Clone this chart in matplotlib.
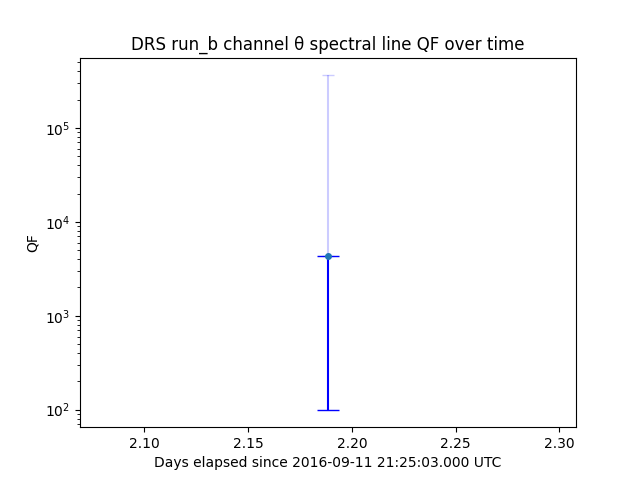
import numpy as np
import matplotlib.pyplot as plt

# data
days = [2.1885]
qf = [4300.0]
qf_low = [100.0]
qf_high = [366000.0]

fig, ax = plt.subplots(figsize=(6.4, 4.8), dpi=100)

x = np.array(days)
y = np.array(qf)
lo = y - np.array(qf_low)
hi = np.array(qf_high) - y

# upper uncertainty, faint
ax.errorbar(x, y, yerr=[np.zeros_like(y), hi], fmt='none', ecolor='blue',
            alpha=0.2, capsize=4)
# lower uncertainty, solid
ax.errorbar(x, y, yerr=[lo, np.zeros_like(y)], fmt='none', ecolor='blue',
            capsize=8, elinewidth=1.5)
ax.plot(x, y, 'o', color='C0', markersize=4)

ax.set_yscale('log')
ax.set_xlim(2.069, 2.308)
ax.set_ylim(65, 560000)
ax.set_xlabel('Days elapsed since 2016-09-11 21:25:03.000 UTC')
ax.set_ylabel('QF')
ax.set_title('DRS run_b channel θ spectral line QF over time')

fig.savefig('out.png')
